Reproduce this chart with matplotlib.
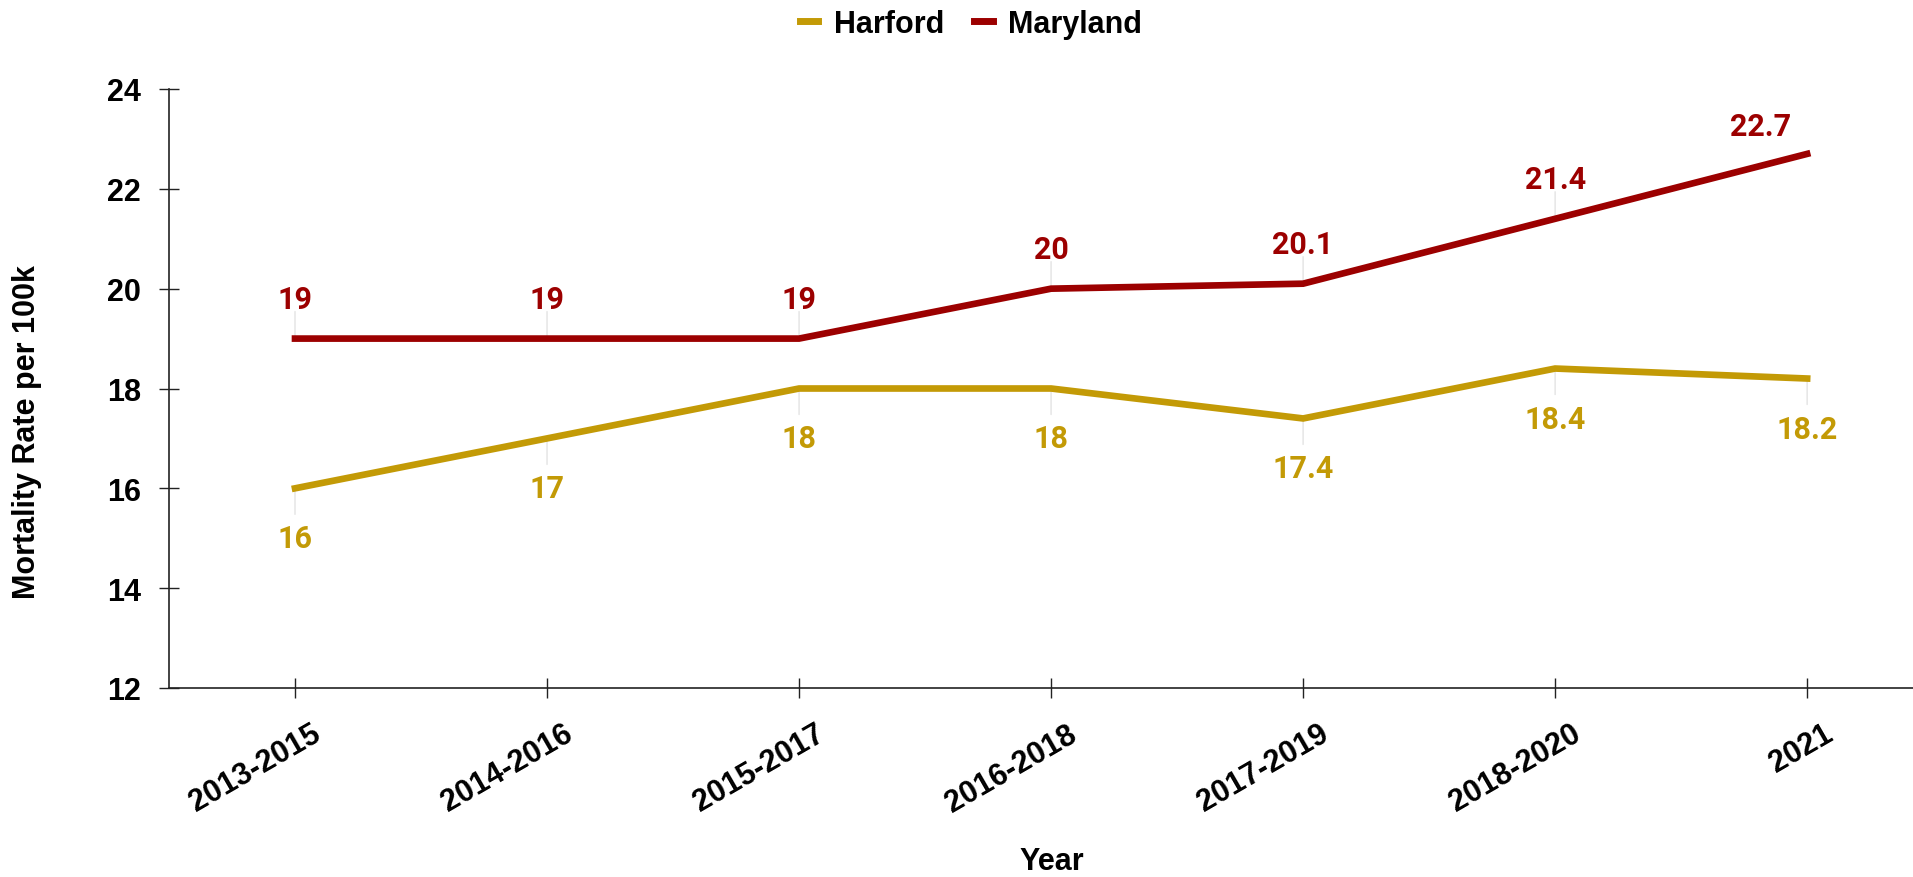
import matplotlib
matplotlib.use("Agg")
import matplotlib.pyplot as plt
from matplotlib.transforms import ScaledTranslation
from matplotlib.lines import Line2D

years = ["2013-2015", "2014-2016", "2015-2017", "2016-2018", "2017-2019", "2018-2020", "2021"]
harford = [16, 17, 18, 18, 17.4, 18.4, 18.2]
maryland = [19, 19, 19, 20, 20.1, 21.4, 22.7]
series_names = ["Harford", "Maryland"]
yticks = [12, 14, 16, 18, 20, 22, 24]

C_HAR = "#C39A06"
C_MD = "#9C0000"
AXFONT = "Liberation Sans"
LBLFONT = "Roboto"
FS = 22

W, H, DPI = 1913, 878, 100
fig = plt.figure(figsize=(W / DPI, H / DPI), dpi=DPI)
left, right, top, bottom = 169, 1913, 90, 689
ax = fig.add_axes([left / W, 1 - bottom / H, (right - left) / W, (bottom - top) / H])

x = list(range(len(years)))
ax.plot(x, harford, color=C_HAR, lw=4.8, solid_joinstyle="miter", zorder=3, clip_on=False)
ax.plot(x, maryland, color=C_MD, lw=4.8, solid_joinstyle="miter", zorder=3, clip_on=False)

ax.set_xlim(-0.5, 6.42)
ax.set_ylim(12, 24)
ax.set_yticks(yticks)
ax.set_xticks(x)
ax.set_xticklabels(years)

for s in ["top", "right"]:
    ax.spines[s].set_visible(False)
for s in ["left", "bottom"]:
    ax.spines[s].set_color("#222222")
    ax.spines[s].set_linewidth(1.2)

ax.tick_params(axis="both", direction="inout", length=14, width=1.0, color="#222222")
ax.tick_params(axis="y", pad=13, labelsize=FS)
ax.tick_params(axis="x", pad=15, labelsize=FS)
for lab in ax.get_yticklabels():
    lab.set_fontfamily(AXFONT)
    lab.set_fontweight("bold")
for lab in ax.get_xticklabels():
    lab.set_fontfamily(AXFONT)
    lab.set_fontweight("bold")
    lab.set_rotation(30)
    lab.set_ha("right")
    lab.set_va("top")
    lab.set_rotation_mode("anchor")
    lab.set_transform(lab.get_transform() + ScaledTranslation(16 / DPI, 0, fig.dpi_scale_trans))

fig.text(27 / W, 1 - 432 / H, "Mortality Rate per 100k", rotation=90, fontsize=FS, fontweight="bold",
         family=AXFONT, ha="center", va="center")
fig.text(1052 / W, 1 - 862 / H, "Year", fontsize=FS, fontweight="bold", family=AXFONT,
         ha="center", va="center")

# data labels with faint connectors
for i, (xi, v) in enumerate(zip(x, maryland)):
    last = i == len(x) - 1
    if not last:
        ax.annotate("", xy=(xi, v), xytext=(0, 27), textcoords="offset pixels",
                    arrowprops=dict(arrowstyle="-", color="#e3e3e3", lw=1, shrinkA=0, shrinkB=0), zorder=1)
        off = (0, 40)
    else:
        off = (-47, 28)
    ax.annotate(f"{v:g}", xy=(xi, v), xytext=off, textcoords="offset pixels",
                ha="center", va="center", color=C_MD, fontsize=FS, fontweight="bold", family=LBLFONT, zorder=4)
for i, (xi, v) in enumerate(zip(x, harford)):
    ax.annotate("", xy=(xi, v), xytext=(0, -26), textcoords="offset pixels",
                arrowprops=dict(arrowstyle="-", color="#e3e3e3", lw=1, shrinkA=0, shrinkB=0), zorder=1)
    ax.annotate(f"{v:g}", xy=(xi, v), xytext=(0, -50), textcoords="offset pixels",
                ha="center", va="center", color=C_HAR, fontsize=FS, fontweight="bold", family=LBLFONT, zorder=4)

handles = [Line2D([0], [0], color=C_HAR, lw=5), Line2D([0], [0], color=C_MD, lw=5)]
fig.legend(handles, series_names, loc="center", bbox_to_anchor=(971 / W, 1 - 25 / H), ncol=2, frameon=False,
           prop={"family": AXFONT, "weight": "bold", "size": FS}, handlelength=0.6, handletextpad=0.5,
           columnspacing=1.0)

fig.savefig("out.png", dpi=DPI, facecolor="white")
